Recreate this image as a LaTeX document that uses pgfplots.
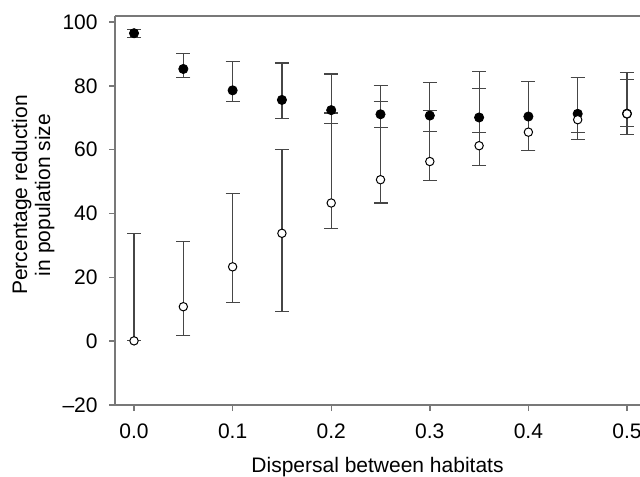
\documentclass[border=0pt]{standalone}
\usepackage{pgfplots}
\pgfplotsset{compat=1.18}
\usepackage{pgfplotstable}
\usepackage{fontspec}
\setmainfont{Liberation Sans}
\definecolor{axcol}{RGB}{120,120,120}
\definecolor{barcol}{RGB}{70,70,70}

\pgfplotstableread{
x y ep em
0.00 96.5 1.2 1.3
0.05 85.3 4.9 2.7
0.10 78.6 9.0 3.5
0.15 75.6 11.6 5.7
0.20 72.4 11.35 4.1
0.25 71.1 8.9 4.1
0.30 70.7 10.3 5.0
0.35 70.1 14.5 4.7
0.40 70.4 11.0 10.7
0.45 71.25 11.35 5.75
0.50 71.3 13.0 4.1
}\filled

\pgfplotstableread{
x y ep em
0.00 0.1 33.65 0.0
0.05 10.8 20.4 8.9
0.10 23.3 22.9 11.2
0.15 33.8 26.3 24.4
0.20 43.3 28.2 8.0
0.25 50.6 24.6 7.3
0.30 56.3 15.9 6.0
0.35 61.25 17.95 6.25
0.40 65.5 15.9 5.8
0.45 69.4 13.2 6.3
0.50 71.25 10.65 6.55
}\open

\begin{document}
\fontsize{10.5}{12.5}\selectfont
\begin{tikzpicture}
\begin{axis}[
  scale only axis,
  width=262.5pt, height=194.5pt,
  xmin=-0.0193, xmax=0.5132,
  ymin=-20, ymax=101.9,
  axis x line=box, axis y line=left,
  axis line style={-, draw=axcol, line width=0.9pt},
  xtick pos=left, ytick pos=left,
  tick align=outside,
  major tick length=3pt,
  every tick/.style={draw=axcol, line width=0.7pt},
  xtick={0,0.1,0.2,0.3,0.4,0.5},
  xticklabels={0.0,0.1,0.2,0.3,0.4,0.5},
  ytick={-20,0,20,40,60,80,100},
  yticklabels={\textendash20,0,20,40,60,80,100},
  tick label style={font=\fontsize{10.5}{12.5}\selectfont},
  xticklabel style={anchor=base, yshift=-13.5pt},
  yticklabel style={anchor=east, xshift=-2pt},
  xlabel={Dispersal between habitats},
  ylabel={Percentage reduction\\in population size},
  every axis x label/.style={at={(axis description cs:0.5,0)}, anchor=base, yshift=-33.85pt, font=\fontsize{10.5}{12.5}\selectfont},
  every axis y label/.style={at={(axis description cs:-0.156,0.54)}, anchor=center, rotate=90, align=center, font=\fontsize{10.5}{11.5}\selectfont},
  error bars/error bar style={draw=barcol, line width=0.6pt},
  error bars/error mark options={draw=barcol, line width=0.6pt, mark size=3.5pt, rotate=90},
]
\addplot[only marks, mark=*, mark size=2.3pt, mark options={fill=black, draw=black},
  error bars/.cd, y dir=both, y explicit]
  table[x=x, y=y, y error plus=ep, y error minus=em] {\filled};
\addplot[only marks, mark=*, mark size=2.1pt, mark options={fill=white, draw=black, line width=0.5pt},
  error bars/.cd, y dir=both, y explicit]
  table[x=x, y=y, y error plus=ep, y error minus=em] {\open};
\end{axis}
\pgfresetboundingbox
\path (-57.5pt,-35.5pt) rectangle (262.5pt,202.5pt);
\end{tikzpicture}
\end{document}
